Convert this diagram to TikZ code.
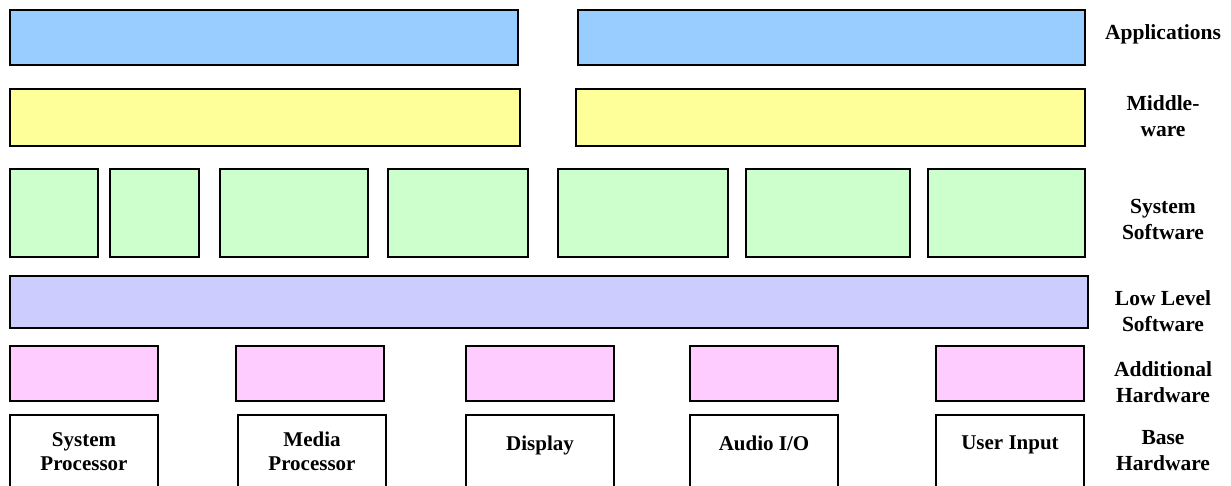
\documentclass[tikz,border=0pt]{standalone}
\usepackage{fontspec}
\setmainfont{Liberation Serif}
\definecolor{appc}{HTML}{99CCFF}
\definecolor{midc}{HTML}{FFFF99}
\definecolor{sysc}{HTML}{CCFFCC}
\definecolor{lowc}{HTML}{CCCCFF}
\definecolor{addc}{HTML}{FFCCFF}
\begin{document}
\begin{tikzpicture}[x=1pt,y=-1pt,
  box/.style={draw=black, line width=1.5pt, inner sep=0pt, outer sep=0pt, anchor=north west},
  lbl/.style={font=\bfseries\fontsize{21.5}{26}\selectfont, align=center, inner sep=0pt},
  btxt/.style={font=\bfseries\fontsize{21}{24}\selectfont, align=center, inner sep=0pt, anchor=north}]
\useasboundingbox (0,0) rectangle (1231,485);
% Applications
\node[box, fill=appc, minimum width=508pt, minimum height=55pt] (app1) at (10,10) {};
\node[box, fill=appc, minimum width=507pt, minimum height=55pt] (app2) at (578,10) {};
% Middleware
\node[box, fill=midc, minimum width=510pt, minimum height=57pt] (mid1) at (10,89) {};
\node[box, fill=midc, minimum width=509pt, minimum height=57pt] (mid2) at (576,89) {};
% System software
\node[box, fill=sysc, minimum width=88pt,  minimum height=88pt] (sys1) at (10,169) {};
\node[box, fill=sysc, minimum width=89pt,  minimum height=88pt] (sys2) at (110,169) {};
\node[box, fill=sysc, minimum width=148pt, minimum height=88pt] (sys3) at (220,169) {};
\node[box, fill=sysc, minimum width=140pt, minimum height=88pt] (sys4) at (388,169) {};
\node[box, fill=sysc, minimum width=170pt, minimum height=88pt] (sys5) at (558,169) {};
\node[box, fill=sysc, minimum width=164pt, minimum height=88pt] (sys6) at (746,169) {};
\node[box, fill=sysc, minimum width=157pt, minimum height=88pt] (sys7) at (928,169) {};
% Low level software
\node[box, fill=lowc, minimum width=1078pt, minimum height=52pt] (low) at (10,276) {};
% Additional hardware
\node[box, fill=addc, minimum width=148pt, minimum height=55pt] (add1) at (10,346) {};
\node[box, fill=addc, minimum width=148pt, minimum height=55pt] (add2) at (236,346) {};
\node[box, fill=addc, minimum width=148pt, minimum height=55pt] (add3) at (466,346) {};
\node[box, fill=addc, minimum width=148pt, minimum height=55pt] (add4) at (690,346) {};
\node[box, fill=addc, minimum width=148pt, minimum height=55pt] (add5) at (936,346) {};
% Base hardware
\node[box, fill=white, minimum width=148pt, minimum height=80pt] (base1) at (10,415) {};
\node[box, fill=white, minimum width=148pt, minimum height=80pt] (base2) at (238,415) {};
\node[box, fill=white, minimum width=148pt, minimum height=80pt] (base3) at (466,415) {};
\node[box, fill=white, minimum width=148pt, minimum height=80pt] (base4) at (690,415) {};
\node[box, fill=white, minimum width=148pt, minimum height=80pt] (base5) at (936,415) {};
\node[btxt] (t1) at ([yshift=-17pt]base1.north) {System\\Processor};
\node[btxt] (t2) at ([yshift=-17pt]base2.north) {Media\\Processor};
\node[btxt] (t3) at ([yshift=-21pt]base3.north) {Display};
\node[btxt] (t4) at ([yshift=-21pt]base4.north) {Audio I/O};
\node[btxt] (t5) at ([yshift=-21pt]base5.north) {User Input};
% Layer labels
\node[lbl] (l1) at (1163,34) {Applications};
\node[lbl] (l2) at (1163,116) {Middle-\\ware};
\node[lbl] (l3) at (1163,219) {System\\Software};
\node[lbl] (l4) at (1163,311) {Low Level\\Software};
\node[lbl] (l5) at (1163,382) {Additional\\Hardware};
\node[lbl] (l6) at (1163,451) {Base\\Hardware};
\end{tikzpicture}
\end{document}
